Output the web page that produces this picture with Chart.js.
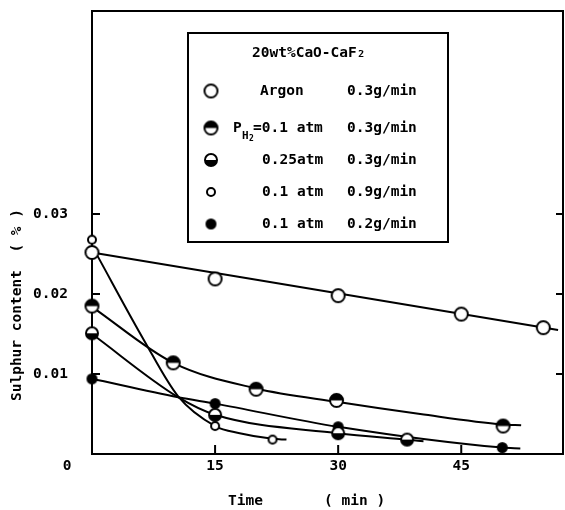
<!DOCTYPE html>
<html>
<head>
<meta charset="utf-8">
<script src="https://cdn.jsdelivr.net/npm/chart.js@4.4.0/dist/chart.umd.min.js"></script>
<style>
  html, body { margin: 0; padding: 0; background: #fff; }
</style>
</head>
<body>
<canvas id="chart" width="565" height="510"></canvas>
<script>
// Measured points, time (min) vs sulphur content (%)
const argonT = [0, 15, 30, 45, 55];
const argonS = [0.0252, 0.0219, 0.0198, 0.0175, 0.0158];
const h1T = [0, 9.9, 20, 29.8, 50.1];            // PH2 = 0.1 atm, 0.3 g/min
const h1S = [0.0185, 0.0114, 0.0081, 0.0067, 0.0035];
const h25T = [0, 15, 30, 38.4];                  // 0.25 atm, 0.3 g/min
const h25S = [0.0151, 0.0049, 0.0026, 0.0018];
const fastT = [0, 15, 22];                       // 0.1 atm, 0.9 g/min
const fastS = [0.0268, 0.0035, 0.0018];
const slowT = [0, 15, 30, 50];                   // 0.1 atm, 0.2 g/min
const slowS = [0.0094, 0.0063, 0.0034, 0.0008];

// Hand drawn curves through the points
const argonCurveT = [0, 56.8];
const argonCurveS = [0.0252, 0.0155];
const h1CurveT = [0, 9.9, 20, 30, 40, 50, 52.3];
const h1CurveS = [0.0184, 0.0114, 0.0082, 0.0065, 0.0050, 0.0037, 0.0036];
const h25CurveT = [0, 10.5, 15, 30, 38.4, 40.4];
const h25CurveS = [0.0150, 0.0071, 0.0049, 0.0026, 0.0018, 0.0016];
const fastCurveT = [0.6, 6.3, 10.5, 15, 18, 22, 23.7];
const fastCurveS = [0.0249, 0.0143, 0.0072, 0.0035, 0.0026, 0.0019, 0.0018];
const slowCurveT = [0, 10.5, 15, 30, 50, 52.2];
const slowCurveS = [0.0094, 0.0071, 0.0063, 0.0034, 0.0008, 0.0007];

// Axis ticks and labels
const xTicks = [15, 30, 45];
const yTicks = [0.01, 0.02, 0.03];
const xTitle = 'Time       ( min )';
const yTitle = 'Sulphur content  ( % )';

// Legend text
const legendTitle = '20wt%CaO-CaF\u2082';
const legendGas = ['Argon', '=0.1 atm', '0.25atm', '0.1 atm', '0.1 atm'];
const legendRate = ['0.3g/min', '0.3g/min', '0.3g/min', '0.9g/min', '0.2g/min'];

const FONT = 'bold 14.5px "DejaVu Sans Mono"';

// Draw a marker symbol on its own small canvas
function makeMarker(r, kind) {
    const size = Math.ceil(2 * r + 4);
    const c = document.createElement('canvas');
    c.width = size;
    c.height = size;
    const g = c.getContext('2d');
    const m = size / 2;
    g.beginPath();
    g.arc(m, m, r, 0, Math.PI * 2);
    g.fillStyle = kind === 'filled' ? '#000' : '#fff';
    g.fill();
    if (kind === 'top' || kind === 'bottom') {
        g.beginPath();
        if (kind === 'top') g.arc(m, m, r, Math.PI, 2 * Math.PI);
        else g.arc(m, m, r, 0, Math.PI);
        g.closePath();
        g.fillStyle = '#000';
        g.fill();
    }
    g.beginPath();
    g.arc(m, m, r, 0, Math.PI * 2);
    g.lineWidth = 2;
    g.strokeStyle = '#000';
    g.stroke();
    return c;
}

const markers = [
    makeMarker(6.5, 'open'),
    makeMarker(6.5, 'top'),
    makeMarker(6, 'bottom'),
    makeMarker(4, 'open'),
    makeMarker(4.5, 'filled')
];

function pts(t, s) {
    return t.map((v, i) => ({ x: v, y: s[i] }));
}

function curve(t, s) {
    return {
        data: pts(t, s),
        borderColor: '#000',
        borderWidth: 2,
        pointRadius: 0,
        cubicInterpolationMode: 'monotone',
        fill: false,
        clip: false,
        order: 10
    };
}

function points(t, s, marker, order) {
    return {
        data: pts(t, s),
        showLine: false,
        pointStyle: marker,
        pointRadius: 7,
        clip: false,
        order: order
    };
}

// no extra room for first/last labels, the plot box is fixed
function noPad(s) {
    s.paddingTop = 0;
    s.paddingBottom = 0;
    s.paddingLeft = 0;
    s.paddingRight = 0;
}

// Frame, inward ticks and the corner "0"
const framePlugin = {
    id: 'frame',
    beforeDatasetsDraw(chart) {
        const { ctx, chartArea: a, scales } = chart;
        ctx.save();
        ctx.strokeStyle = '#000';
        ctx.lineWidth = 2;
        ctx.strokeRect(a.left, a.top, a.right - a.left, a.bottom - a.top);
        ctx.beginPath();
        yTicks.forEach(v => {
            const y = scales.y.getPixelForValue(v);
            ctx.moveTo(a.left, y);
            ctx.lineTo(a.left + 8, y);
            ctx.moveTo(a.right, y);
            ctx.lineTo(a.right - 7, y);
        });
        xTicks.forEach(v => {
            const x = scales.x.getPixelForValue(v);
            ctx.moveTo(x, a.bottom);
            ctx.lineTo(x, a.bottom - 9);
        });
        ctx.stroke();
        ctx.restore();
    },
    afterDraw(chart) {
        const { ctx, chartArea: a } = chart;
        ctx.save();
        ctx.fillStyle = '#000';
        ctx.font = FONT;
        ctx.textBaseline = 'middle';
        ctx.textAlign = 'center';
        ctx.fillText('0', 67, a.bottom + 12);
        ctx.textAlign = 'left';
        ctx.fillText(xTitle, 228, 501);
        ctx.translate(17, 305);
        ctx.rotate(-Math.PI / 2);
        ctx.textAlign = 'center';
        ctx.fillText(yTitle, 0, 0);
        ctx.restore();
    }
};

// Boxed legend in the upper part of the plot
const legendPlugin = {
    id: 'boxLegend',
    afterDraw(chart) {
        const ctx = chart.ctx;
        const rows = [91, 128, 160, 192, 224];
        ctx.save();
        ctx.strokeStyle = '#000';
        ctx.lineWidth = 2;
        ctx.fillStyle = '#fff';
        ctx.fillRect(188, 33, 260, 209);
        ctx.strokeRect(188, 33, 260, 209);
        ctx.fillStyle = '#000';
        ctx.font = FONT;
        ctx.textBaseline = 'middle';
        ctx.textAlign = 'left';
        ctx.fillText(legendTitle, 252, 53);
        rows.forEach((y, i) => {
            const m = markers[i];
            ctx.drawImage(m, 211 - m.width / 2, y - m.height / 2);
            let x = i === 0 ? 260 : 262;
            if (i === 1) {
                ctx.font = FONT;
                ctx.fillText('P', 233, y);
                ctx.font = 'bold 11px "DejaVu Sans Mono"';
                ctx.fillText('H', 242, y + 8);
                ctx.font = 'bold 8px "DejaVu Sans Mono"';
                ctx.fillText('2', 249, y + 11);
                ctx.font = FONT;
                x = 253;
            }
            ctx.fillText(legendGas[i], x, y);
            ctx.fillText(legendRate[i], 347, y);
        });
        ctx.restore();
    }
};

new Chart(document.getElementById('chart'), {
    type: 'line',
    data: {
        datasets: [
            points(h25T, h25S, markers[2], 0),
            points(slowT, slowS, markers[4], 1),
            points(fastT, fastS, markers[3], 2),
            points(h1T, h1S, markers[1], 3),
            points(argonT, argonS, markers[0], 4),
            curve(argonCurveT, argonCurveS),
            curve(h1CurveT, h1CurveS),
            curve(h25CurveT, h25CurveS),
            curve(fastCurveT, fastCurveS),
            curve(slowCurveT, slowCurveS)
        ]
    },
    options: {
        responsive: false,
        animation: false,
        events: [],
        layout: { autoPadding: false, padding: { top: 11, right: 2, left: 0, bottom: 0 } },
        plugins: {
            legend: { display: false },
            tooltip: { enabled: false }
        },
        scales: {
            x: {
                type: 'linear',
                min: 0,
                max: 57.4,
                afterBuildTicks: s => { s.ticks = xTicks.map(v => ({ value: v })); },
                afterFit: s => { s.height = 56; noPad(s); },
                grid: { display: false, drawTicks: false },
                border: { display: false },
                ticks: {
                    color: '#000',
                    padding: 4,
                    maxRotation: 0,
                    font: { family: 'DejaVu Sans Mono', size: 14.5, weight: 'bold' }
                }
            },
            y: {
                min: 0,
                max: 0.0554,
                afterBuildTicks: s => { s.ticks = yTicks.map(v => ({ value: v })); },
                afterFit: s => { s.width = 92; noPad(s); },
                grid: { display: false, drawTicks: false },
                border: { display: false },
                ticks: {
                    color: '#000',
                    padding: 24,
                    callback: v => v.toFixed(2),
                    font: { family: 'DejaVu Sans Mono', size: 14.5, weight: 'bold' }
                }
            }
        }
    },
    plugins: [framePlugin, legendPlugin]
});
</script>
</body>
</html>
